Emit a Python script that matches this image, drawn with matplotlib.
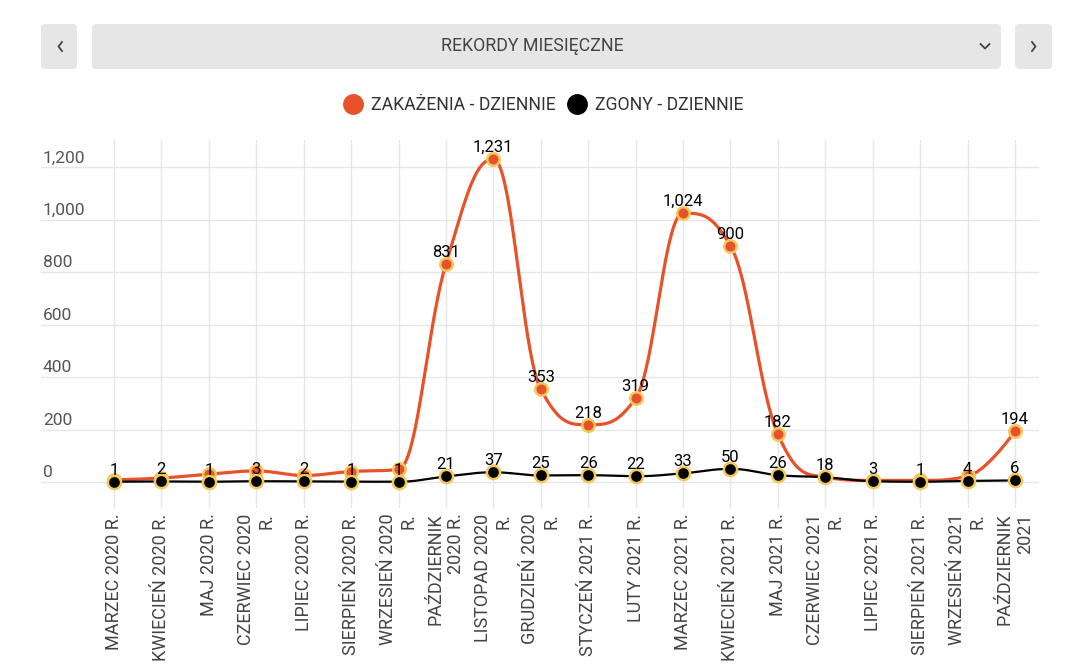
#imports
import matplotlib
matplotlib.use('Agg')
import matplotlib.pyplot as plt
from matplotlib.patches import FancyBboxPatch
from matplotlib.lines import Line2D
import numpy as np

plt.rcParams['font.family'] = ['Roboto', 'DejaVu Sans']


#data
months = ["MARZEC 2020 R.", "KWIECIEŃ 2020 R.", "MAJ 2020 R.", "CZERWIEC 2020\nR.",
          "LIPIEC 2020 R.", "SIERPIEŃ 2020 R.", "WRZESIEŃ 2020\nR.", "PAŹDZIERNIK\n2020 R.",
          "LISTOPAD 2020\nR.", "GRUDZIEŃ 2020\nR.", "STYCZEŃ 2021 R.", "LUTY 2021 R.",
          "MARZEC 2021 R.", "KWIECIEŃ 2021 R.", "MAJ 2021 R.", "CZERWIEC 2021\nR.",
          "LIPIEC 2021 R.", "SIERPIEŃ 2021 R.", "WRZESIEŃ 2021\nR.", "PAŹDZIERNIK\n2021"]
zakazenia = [8, 15, 30, 42, 25, 40, 48, 831, 1231, 353, 218, 319, 1024, 900, 182, 18, 6, 6, 22, 194]
zgony = [1, 2, 1, 3, 2, 1, 1, 21, 37, 25, 26, 22, 33, 50, 26, 18, 3, 1, 4, 6]
yticks = [0, 200, 400, 600, 800, 1000, 1200]

ORANGE = '#e8522a'
EDGE = '#f2c75c'
GRID = '#e6e6e6'
W, H = 1073, 672


def fx(px):
    return px / W


def fy(py):
    return 1 - py / H


# highcharts style spline (smoothing 1.5)
def spline(xs, ys, n=40):
    m = len(xs)
    lc = [None] * m
    rc = [None] * m
    for i in range(1, m - 1):
        px, py = xs[i], ys[i]
        lx, ly = xs[i - 1], ys[i - 1]
        nx, ny = xs[i + 1], ys[i + 1]
        lcx = (1.5 * px + lx) / 2.5
        lcy = (1.5 * py + ly) / 2.5
        rcx = (1.5 * px + nx) / 2.5
        rcy = (1.5 * py + ny) / 2.5
        if rcx != lcx:
            corr = (rcy - lcy) * (rcx - px) / (rcx - lcx) + py - rcy
            lcy += corr
            rcy += corr
        if lcy > ly and lcy > py:
            lcy = max(ly, py); rcy = 2 * py - lcy
        elif lcy < ly and lcy < py:
            lcy = min(ly, py); rcy = 2 * py - lcy
        if rcy > ny and rcy > py:
            rcy = max(ny, py); lcy = 2 * py - rcy
        elif rcy < ny and rcy < py:
            rcy = min(ny, py); lcy = 2 * py - rcy
        lc[i] = (lcx, lcy)
        rc[i] = (rcx, rcy)
    t = np.linspace(0, 1, n)
    outx, outy = [xs[0]], [ys[0]]
    for i in range(1, m):
        p0 = (xs[i - 1], ys[i - 1])
        p3 = (xs[i], ys[i])
        p1 = rc[i - 1] if rc[i - 1] else p0
        p2 = lc[i] if lc[i] else p3
        for k in range(2):
            c = ((1 - t) ** 3 * p0[k] + 3 * (1 - t) ** 2 * t * p1[k]
                 + 3 * (1 - t) * t ** 2 * p2[k] + t ** 3 * p3[k])
            (outx if k == 0 else outy).extend(c[1:])
    return outx, outy


fig = plt.figure(figsize=(W / 100, H / 100), dpi=100)

# header bar
for x0, x1 in [(41, 77), (92, 1001), (1015, 1052)]:
    fig.patches.append(FancyBboxPatch((fx(x0), fy(69)), fx(x1 - x0), (69 - 24) / H,
                                      boxstyle='round,pad=0,rounding_size=0.005',
                                      transform=fig.transFigure, fc='#e6e6e6', ec='none'))
fig.text(fx(532), fy(46), "REKORDY MIESIĘCZNE", ha='center', va='center',
         fontsize=12.8, color='#444444')
chev = dict(color='#444444', lw=1.3, transform=fig.transFigure)
fig.add_artist(Line2D([fx(62), fx(58.5), fx(62)], [fy(42), fy(46.5), fy(51)], **chev))
fig.add_artist(Line2D([fx(1032), fx(1035.5), fx(1032)], [fy(42), fy(46.5), fy(51)], **chev))
fig.add_artist(Line2D([fx(980.5), fx(985), fx(989.5)], [fy(44), fy(48.5), fy(44)], **chev))

# plot area
ax = fig.add_axes([fx(41), fy(508), fx(1039 - 41), (508 - 140) / H])
x = np.arange(len(months))
step = (1015 - 114) / 19
ax.set_xlim(-(114 - 41) / step, 19 + (1039 - 1015) / step)
ppu = 52.5 / 200
ax.set_ylim(-(508 - 482) / ppu, (482 - 140) / ppu)
for s in ax.spines.values():
    s.set_visible(False)
ax.set_xticks(x)
ax.set_xticklabels(months, rotation=90, fontsize=13, color='#444444')
for lab in ax.get_xticklabels():
    lab.set_multialignment('right')
ax.tick_params(axis='x', length=0, pad=4)
ax.set_yticks(yticks)
ax.tick_params(axis='y', length=0, labelleft=False)
ax.grid(True, color=GRID, lw=1)
ax.set_axisbelow(True)
for v in yticks:
    ax.text(0.002, v + 6, f"{v:,}", transform=ax.get_yaxis_transform(), ha='left',
            va='bottom', fontsize=12.5, color='#555555')

sx, sy = spline(x, zakazenia)
ax.plot(sx, sy, color=ORANGE, lw=2.3, zorder=3, solid_capstyle='round')
ax.plot(x, zakazenia, 'o', ms=9, mfc=ORANGE, mec=EDGE, mew=1.8, zorder=4)
sx, sy = spline(x, zgony)
ax.plot(sx, sy, color='black', lw=1.6, zorder=5)
ax.plot(x, zgony, 'o', ms=9.5, mfc='black', mec=EDGE, mew=1.8, zorder=6)

# data labels (orange ones hidden when they would overlap the black ones)
for i in x:
    ax.annotate(f"{zgony[i]:,}", (i, zgony[i]), xytext=(0, 3), textcoords='offset points',
                ha='center', va='bottom', fontsize=12, color='black', zorder=7)
    if zakazenia[i] - zgony[i] > 70:
        ax.annotate(f"{zakazenia[i]:,}", (i, zakazenia[i]), xytext=(0, 3),
                    textcoords='offset points', ha='center', va='bottom',
                    fontsize=12, color='black', zorder=7)

# legend
handles = [Line2D([], [], marker='o', ls='none', ms=14, mfc=ORANGE, mec=ORANGE),
           Line2D([], [], marker='o', ls='none', ms=14, mfc='black', mec='black')]
fig.legend(handles, ["ZAKAŻENIA - DZIENNIE", "ZGONY - DZIENNIE"], loc='center',
           bbox_to_anchor=(fx(543), fy(105)), ncol=2, frameon=False, fontsize=12.7,
           labelcolor='#333333', handletextpad=0.4, columnspacing=0.6, handlelength=1.2)

plt.savefig('out.png', dpi=100)
